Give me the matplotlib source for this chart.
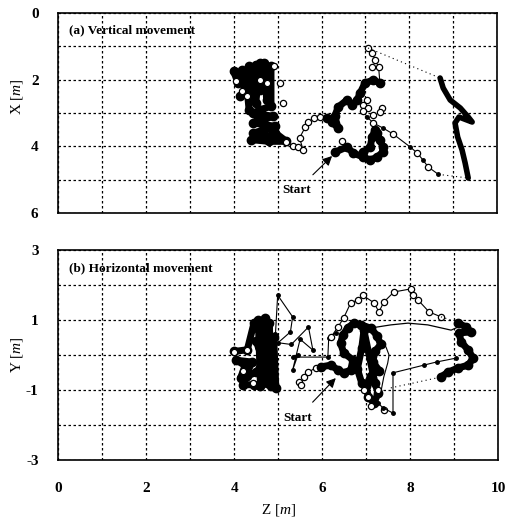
import matplotlib.pyplot as plt

plt.rcParams['font.family'] = ['Liberation Serif', 'DejaVu Serif']
plt.rcParams['mathtext.fontset'] = 'custom'
plt.rcParams['mathtext.rm'] = 'Liberation Serif'
plt.rcParams['mathtext.it'] = 'Liberation Serif:italic'

# ---- (a) vertical movement : (Z, X) in metres ----
a_blob_z = [4.0, 4.1, 4.2, 4.25, 4.35, 4.4, 4.5, 4.5, 4.6, 4.6, 4.7, 4.75, 4.85, 4.85, 4.6, 4.45, 4.9, 4.45, 4.95, 4.45, 4.9, 4.4, 4.8, 5.2, 4.95, 4.6, 4.35, 4.3, 4.15]
a_blob_x = [1.75, 2.1, 1.7, 2.4, 1.6, 2.6, 1.55, 2.7, 1.5, 2.3, 1.5, 2.6, 1.6, 2.8, 2.9, 3.0, 3.1, 3.3, 3.4, 3.6, 3.7, 3.8, 3.85, 3.85, 3.6, 3.2, 2.9, 2.2, 2.5]
a_blob_open_z = [4.92, 5.06, 5.13, 4.05, 4.2, 4.3, 4.75, 4.6]
a_blob_open_x = [1.6, 2.1, 2.7, 2.05, 2.35, 2.5, 2.1, 2.0]

a_arc_z = [5.2, 5.35, 5.47, 5.58, 5.5, 5.63, 5.7, 5.82, 5.97, 6.13]
a_arc_x = [3.87, 4.0, 4.02, 4.1, 3.75, 3.42, 3.27, 3.15, 3.12, 3.15]

a_path_z = [6.13, 6.24, 6.38, 6.3, 6.38, 6.58, 6.7, 6.81, 6.88, 6.99, 7.18, 7.33]
a_path_x = [3.15, 3.27, 3.45, 3.1, 2.82, 2.61, 2.75, 2.61, 2.4, 2.1, 2.01, 2.1]
a_climb_z = [7.33, 7.3, 7.22, 7.15, 7.06]
a_climb_x = [2.1, 1.62, 1.4, 1.2, 1.05]
a_scatter_z = [7.15, 7.04, 6.95, 7.06, 7.38, 7.33, 7.18, 6.47]
a_scatter_x = [1.62, 2.61, 2.76, 2.85, 2.85, 2.97, 3.06, 3.84]

a_diag_z = [6.95, 7.04, 7.18, 7.4, 7.63, 8.02, 8.18, 8.31, 8.43, 8.66]
a_diag_x = [2.95, 3.12, 3.3, 3.45, 3.63, 4.02, 4.2, 4.41, 4.62, 4.84]

a_right_z = [8.70, 8.77, 8.93, 9.16, 9.34, 9.43, 9.13, 9.04, 9.1, 9.2, 9.27, 9.34]
a_right_x = [1.95, 2.25, 2.61, 2.85, 3.12, 3.27, 3.12, 3.3, 3.72, 4.11, 4.5, 4.95]

a_start_z = [6.31, 6.58, 6.72, 6.95, 7.11, 7.27, 7.4, 7.4, 7.33, 7.27, 7.22, 7.15, 7.11, 6.95]
a_start_x = [4.17, 4.02, 4.2, 4.32, 4.41, 4.32, 4.17, 4.02, 3.81, 3.6, 3.51, 3.72, 4.02, 4.17]

a_jump1_z = [7.06, 8.70]
a_jump1_x = [1.05, 1.95]
a_jump2_z = [8.66, 9.34]
a_jump2_x = [4.84, 4.95]

# ---- (b) horizontal movement : (Z, Y) in metres ----
b_blob_z = [4.0, 4.3, 4.45, 4.55, 4.6, 4.7, 4.75, 4.8, 4.85, 4.9, 4.95, 4.7, 4.5, 4.85, 4.5, 4.3, 4.15, 4.25, 4.05, 4.4, 4.2, 4.45]
b_blob_y = [0.1, 0.15, 0.9, 1.0, -0.9, 1.05, -0.8, 0.9, -0.9, 0.5, -0.95, -0.3, 0.4, 0.1, -0.5, -0.6, -0.65, -0.3, -0.15, -0.2, -0.85, -0.85]
b_blob_open_z = [4.3, 4.0, 4.44, 4.2]
b_blob_open_y = [0.14, 0.09, -0.8, -0.45]

b_tangle_z = [4.94, 4.99, 5.33, 5.28, 5.0, 5.3, 5.69, 5.79, 5.5, 5.33, 5.45, 5.33, 6.13, 6.15, 6.31]
b_tangle_y = [0.6, 1.71, 1.09, 0.66, 0.35, 0.3, 0.8, 0.14, 0.45, -0.43, 0.0, -0.06, -0.06, 0.49, 0.63]

b_open_z = [5.47, 5.51, 5.58, 5.69, 5.85, 5.97]
b_open_y = [-0.77, -0.86, -0.63, -0.49, -0.37, -0.34]

b_path_z = [5.97, 6.2, 6.36, 6.49, 6.65, 6.7, 6.49, 6.42, 6.47, 6.58, 6.72, 6.88, 7.1, 7.25, 7.33, 7.2, 7.15, 7.3, 7.1, 7.0, 7.05, 7.18, 7.27, 7.2, 6.95, 6.9, 6.8, 6.9]
b_path_y = [-0.34, -0.29, -0.43, -0.51, -0.43, -0.14, 0.06, 0.34, 0.57, 0.77, 0.91, 0.86, 0.77, 0.55, 0.3, 0.1, -0.2, -0.45, -0.6, -0.9, -1.2, -1.37, -1.09, -0.8, 0.7, 0.2, -0.4, -0.8]
b_low_open_z = [6.95, 7.04, 7.27, 7.4, 7.1]
b_low_open_y = [-1.0, -1.2, -1.0, -1.57, -1.45]
b_thin_z = [7.33, 7.45, 7.52, 7.49, 7.4, 7.33]
b_thin_y = [0.43, 0.23, 0.0, -0.23, -0.63, -1.09]

b_upper_z = [6.2, 6.36, 6.49, 6.65, 6.81, 6.92, 7.18, 7.29, 7.4, 7.63, 8.02, 8.06, 8.18, 8.43, 8.7]
b_upper_y = [0.51, 0.8, 1.06, 1.49, 1.57, 1.71, 1.49, 1.23, 1.51, 1.8, 1.89, 1.71, 1.57, 1.23, 1.09]

b_smooth_z = [7.1, 7.56, 7.95, 8.4, 8.93, 9.09]
b_smooth_y = [0.77, 0.86, 0.91, 0.86, 0.71, 0.8]

b_right_z = [9.09, 9.27, 9.38, 9.11, 9.16, 9.32, 9.43, 9.32, 9.09, 8.86, 8.7]
b_right_y = [0.91, 0.8, 0.66, 0.63, 0.37, 0.14, -0.09, -0.29, -0.37, -0.49, -0.63]

b_back_z = [9.04, 8.6, 8.31, 7.61, 7.61, 7.38, 7.27]
b_back_y = [-0.09, -0.2, -0.29, -0.51, -1.66, -1.51, -1.37]

b_jump1_z = [8.7, 8.93]
b_jump1_y = [1.09, 1.0]
b_jump2_z = [7.56, 8.7]
b_jump2_y = [-0.94, -0.63]

fig = plt.figure(figsize=(5.06, 5.23), dpi=100)
ax1 = fig.add_axes([0.1146, 0.5927, 0.868, 0.3824])
ax2 = fig.add_axes([0.1146, 0.1205, 0.870, 0.4015])

dot = (0, (2, 2))
thick = dict(color='k', lw=5, marker='o', ms=6, mfc='k', mec='k',
             solid_capstyle='round', solid_joinstyle='round')
openm = dict(ls='none', marker='o', ms=4.5, mfc='white', mec='k', mew=0.9)
thin = dict(color='k', lw=0.8, marker='o', ms=2.5, mfc='k', mec='k')

# panel (a)
ax1.plot(a_blob_z, a_blob_x, **thick)
ax1.plot(a_blob_open_z, a_blob_open_x, **openm)
ax1.plot(a_arc_z, a_arc_x, color='k', lw=0.8)
ax1.plot(a_arc_z, a_arc_x, **openm)
ax1.plot(a_path_z, a_path_x, **thick)
ax1.plot(a_climb_z, a_climb_x, **thin)
ax1.plot(a_climb_z[1:], a_climb_x[1:], **openm)
ax1.plot(a_scatter_z, a_scatter_x, **openm)
ax1.plot(a_diag_z, a_diag_x, **thin)
ax1.plot(a_diag_z[::2], a_diag_x[::2], **openm)
ax1.plot(a_right_z, a_right_x, color='k', lw=4, solid_capstyle='round', solid_joinstyle='round')
ax1.plot(a_start_z, a_start_x, **thick)
ax1.plot(a_jump1_z, a_jump1_x, color='k', lw=0.8, ls=(0, (1, 3)))
ax1.plot(a_jump2_z, a_jump2_x, color='k', lw=0.8, ls=(0, (1, 3)))
ax1.annotate('Start', xy=(6.24, 4.29), xytext=(5.44, 5.32), ha='center', va='center',
             fontsize=9.5, fontweight='bold',
             arrowprops=dict(arrowstyle='-|>', color='k', lw=0.8, mutation_scale=14,
                             shrinkA=7, shrinkB=0))

# panel (b)
ax2.plot(b_blob_z, b_blob_y, **thick)
ax2.plot(b_blob_open_z, b_blob_open_y, **openm)
ax2.plot(b_tangle_z, b_tangle_y, **thin)
ax2.plot(b_open_z, b_open_y, color='k', lw=0.8)
ax2.plot(b_open_z, b_open_y, **openm)
ax2.plot(b_path_z, b_path_y, **thick)
ax2.plot(b_low_open_z, b_low_open_y, **openm)
ax2.plot(b_thin_z, b_thin_y, color='k', lw=0.8)
ax2.plot(b_upper_z, b_upper_y, color='k', lw=0.8)
ax2.plot(b_upper_z, b_upper_y, **openm)
ax2.plot(b_smooth_z, b_smooth_y, color='k', lw=0.9)
ax2.plot(b_right_z, b_right_y, **thick)
ax2.plot(b_back_z, b_back_y, **thin)
ax2.plot(b_jump1_z, b_jump1_y, color='k', lw=0.8, ls=(0, (1, 3)))
ax2.plot(b_jump2_z, b_jump2_y, color='k', lw=0.8, ls=(0, (1, 3)))
ax2.annotate('Start', xy=(6.31, -0.66), xytext=(5.44, -1.8), ha='center', va='center',
             fontsize=9.5, fontweight='bold',
             arrowprops=dict(arrowstyle='-|>', color='k', lw=0.8, mutation_scale=14,
                             shrinkA=7, shrinkB=0))

zt = list(range(0, 11))
zlab = [str(v) if v % 2 == 0 else '' for v in zt]

ax1.set_xlim(0, 10)
ax1.set_ylim(6, 0)
ax1.set_xticks(zt)
ax1.set_xticklabels([])
ax1.set_yticks(range(0, 7))
ax1.set_yticklabels(['0', '', '2', '', '4', '', '6'])
ax1.set_ylabel('X [$\\it{m}$]', fontsize=11)
ax1.yaxis.set_label_coords(-0.075, 0.58)
ax1.text(0.025, 0.915, '(a) Vertical movement', transform=ax1.transAxes,
         fontsize=9.5, fontweight='bold', va='center')

ax2.set_xlim(0, 10)
ax2.set_ylim(-3, 3)
ax2.set_xticks(zt)
ax2.set_xticklabels(zlab)
ax2.set_yticks(range(-3, 4))
ax2.set_yticklabels(['-3', '', '-1', '', '1', '', '3'])
ax2.set_ylabel('Y [$\\it{m}$]', fontsize=11)
ax2.yaxis.set_label_coords(-0.075, 0.5)
ax2.set_xlabel('Z [$\\it{m}$]', fontsize=11, labelpad=5)
ax2.text(0.025, 0.914, '(b) Horizontal movement', transform=ax2.transAxes,
         fontsize=9.5, fontweight='bold', va='center')

for ax in (ax1, ax2):
    ax.grid(True, color='k', ls=dot, lw=0.9)
    ax.tick_params(length=0)
    ax.tick_params(axis='y', pad=14, labelsize=11)
    ax.tick_params(axis='x', pad=16, labelsize=11)
    for lab in ax.get_xticklabels() + ax.get_yticklabels():
        lab.set_fontweight('bold')
    for s in ax.spines.values():
        s.set_linewidth(1.2)

fig.savefig('out.png', dpi=100)
